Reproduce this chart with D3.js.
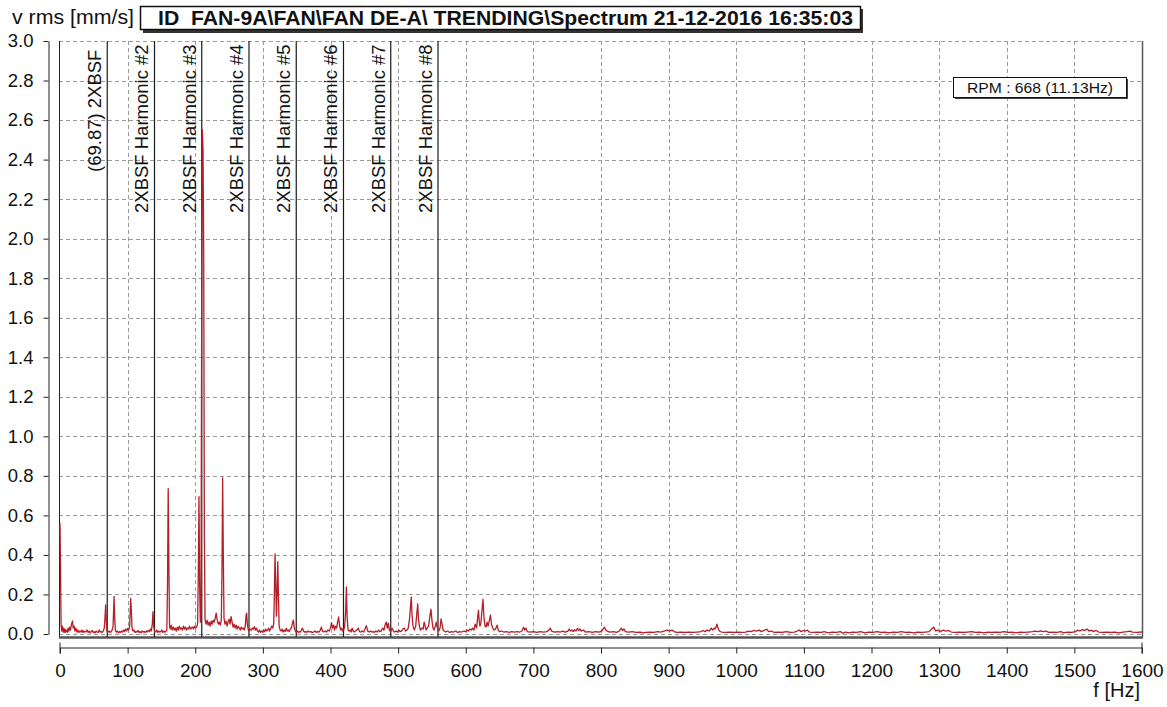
<!DOCTYPE html>
<html>
<head>
<meta charset="utf-8">
<script src="https://cdn.jsdelivr.net/npm/d3@7"></script>
<style>
  body { margin: 0; background: #fff; }
  svg { display: block; font-family: "Liberation Sans", Arial, Helvetica, sans-serif; }
</style>
</head>
<body>
<div id="chart"></div>
<script>
// spectrum readings: [frequency Hz, velocity mm/s rms]
const spectrum = [
  [0,0.56],[0.8,0.32],[1.6,0.05],[2.5,0.015],[3.5,0.04],[4.5,0.01],[5.5,0.03],[6.5,0.008],[7.5,0.025],[8.5,0.01],
  [9.5,0.02],[11,0.008],[12,0.03],[13,0.015],[14.5,0.035],[15.5,0.02],[17,0.05],[18.5,0.066],[19.5,0.03],[21,0.04],
  [22,0.015],[23.5,0.03],[25,0.01],[26.5,0.02],[28,0.008],[29.5,0.015],[31,0.01],[32.5,0.02],[34,0.008],[35.5,0.015],
  [37,0.01],[38.5,0.012],[40,0.02],[41.5,0.008],[43,0.015],[44.5,0.006],[46,0.012],[47.5,0.018],[49,0.008],[50.5,0.012],
  [52,0.006],[53.5,0.015],[55,0.01],[56.5,0.008],[58,0.02],[59.5,0.01],[61,0.012],[62.5,0.008],[64,0.015],[65.5,0.03],
  [66.5,0.08],[67.5,0.147],[68.5,0.06],[69.5,0.015],
  [71,0.01],[72.5,0.015],[74,0.008],[75.5,0.012],[77,0.02],[78.5,0.04],[80,0.19],[81,0.07],[82,0.015],[83.5,0.01],
  [85,0.015],[86.5,0.006],[88,0.012],[89.5,0.008],[91,0.015],[92.5,0.01],[94,0.02],[95.5,0.012],[97,0.025],[98.5,0.015],
  [100,0.028],[101.5,0.02],[103,0.04],[104.5,0.18],[105.5,0.12],[106.5,0.03],[108,0.015],[109.5,0.02],[111,0.008],[112.5,0.012],
  [114,0.01],[115.5,0.018],[117,0.008],[118.5,0.012],[120,0.006],[121.5,0.015],[123,0.01],[124.5,0.012],[126,0.008],[127.5,0.015],
  [129,0.01],[130.5,0.018],[132,0.012],[133.5,0.025],[135,0.015],[136.5,0.05],[137.5,0.113],[138.5,0.04],[140,0.01],[141.5,0.012],
  [143,0.02],[144.5,0.008],[146,0.015],[147.5,0.01],[149,0.012],[150.5,0.02],[152,0.008],[153.5,0.015],[155,0.01],[156.5,0.012],
  [158,0.02],[159,0.25],[160,0.735],[161,0.35],[162,0.04],
  [163,0.025],[164.5,0.045],[166,0.02],[167.5,0.035],[169,0.02],[170.5,0.03],[172,0.015],[173.5,0.035],[175,0.02],[176.5,0.04],
  [178,0.025],[179.5,0.03],[181,0.02],[182.5,0.04],[184,0.025],[185.5,0.035],[187,0.02],[188.5,0.03],[190,0.025],[191.5,0.04],
  [193,0.025],[194.5,0.03],[196,0.035],[197.5,0.025],[199,0.04],[200.5,0.03],[202,0.035],[203.5,0.05],[204.5,0.3],[205.5,0.695],
  [206.5,0.25],[207.5,0.06],[208.5,0.1],[209.5,1.6],[210.5,2.55],[211.5,2.45],[212.5,1.93],[213.5,0.5],[214.5,0.07],
  [216,0.05],[217.5,0.07],[219,0.045],[220.5,0.06],[222,0.04],[223.5,0.065],[225,0.05],[226.5,0.07],[228,0.06],[229.5,0.08],
  [231,0.106],[232.5,0.07],[234,0.05],[235.5,0.06],[237,0.045],[238.5,0.07],[239.5,0.3],[240.5,0.79],[241.5,0.4],[242.5,0.08],
  [244,0.05],[245.5,0.065],[247,0.04],[248.5,0.06],[250,0.075],[251.5,0.05],[253,0.088],[254.5,0.06],[256,0.035],[257.5,0.05],
  [259,0.03],[260.5,0.045],[262,0.025],[263.5,0.04],[265,0.03],[266.5,0.02],[268,0.035],[269.5,0.025],[271,0.03],[272.5,0.02],
  [274,0.04],[275,0.09],[276,0.106],[277,0.05],[278.5,0.02],[280,0.015],[281.5,0.025],[283,0.02],[284.5,0.03],[286,0.025],
  [287.5,0.037],[289,0.02],[290.5,0.03],
  [292,0.015],[293.5,0.01],[295,0.02],[296.5,0.008],[298,0.015],[299.5,0.01],[301,0.02],[302.5,0.012],[304,0.025],[305.5,0.015],
  [307,0.02],[308.5,0.03],[310,0.015],[311.5,0.025],[313,0.04],[314.5,0.03],[316,0.05],[317,0.2],[318,0.405],[319,0.25],
  [320,0.09],[321,0.2],[322,0.366],[323,0.2],[324,0.04],[325.5,0.02],[327,0.015],[328.5,0.025],[330,0.01],[331.5,0.02],
  [333,0.012],[334.5,0.03],[336,0.015],[337.5,0.02],[339,0.012],[340.5,0.025],[342,0.03],[343.5,0.05],[345,0.07],[346.5,0.03],
  [348,0.015],[349.5,0.01],[351,0.015],[352.5,0.008],[354,0.012],[355.5,0.01],[357,0.02],[358.5,0.03],[360,0.015],[361.5,0.01],
  [363,0.012],[365,0.008],[367,0.015],[369,0.01],[371,0.012],[373,0.008],[375,0.01],[377,0.015],[379,0.008],[381,0.012],
  [383,0.01],[385,0.02],[386.5,0.035],[388,0.015],[390,0.01],[392,0.015],[394,0.01],[396,0.02],[398,0.015],[400,0.03],
  [401.5,0.057],[403,0.03],[404.5,0.045],[406,0.02],[407.5,0.04],[409,0.03],[410.5,0.06],[412,0.086],[413.5,0.04],[415,0.02],
  [416.5,0.03],[418,0.015],[419.5,0.02],[421,0.04],[422.5,0.12],[423.5,0.238],[424.5,0.09],[426,0.02],[427.5,0.015],[429,0.02],
  [430.5,0.01],[432,0.03],[433.5,0.015],[435,0.01],[437,0.015],[439,0.02],[441,0.03],[443,0.012],[445,0.01],[447,0.015],
  [449,0.01],[451,0.025],[453,0.042],[455,0.015],[457,0.01],
  [459,0.015],[461,0.01],[463,0.012],[465,0.008],[467,0.015],[469,0.01],[471,0.02],[473,0.012],[475,0.015],[477,0.03],
  [479,0.02],[481,0.05],[482.5,0.06],[484,0.03],[485.5,0.055],[487,0.02],[489,0.012],[491,0.03],[493,0.015],[495,0.01],
  [497,0.015],[499,0.01],[501,0.02],[503,0.012],[505,0.015],[507,0.025],[509,0.03],[511,0.015],[513,0.02],[515,0.03],
  [517,0.08],[518.5,0.15],[519.5,0.187],[520.5,0.1],[522,0.04],[524,0.02],[526,0.04],[527.5,0.1],[529,0.152],[530,0.08],
  [531.5,0.04],[533,0.02],[535,0.03],[537,0.025],[538.5,0.06],[540,0.04],[541.5,0.02],[543,0.03],[545,0.04],[547,0.09],
  [548.5,0.126],[550,0.07],[551.5,0.03],[553,0.02],[555,0.04],[556.5,0.06],[558,0.03],[560,0.015],[562,0.03],[563.5,0.077],
  [565,0.05],[566.5,0.02],[568,0.015],
  [570,0.01],[573,0.015],[576,0.008],[579,0.012],[582,0.01],[585,0.015],[588,0.008],[591,0.012],[594,0.01],[597,0.015],
  [600,0.012],[602,0.02],[604,0.015],[606,0.025],[608,0.02],[610,0.03],[612,0.02],[614,0.05],[616,0.03],[617.5,0.08],
  [618.8,0.12],[620,0.06],[621,0.04],[622.5,0.06],[624,0.12],[625.5,0.176],[627,0.08],[628.5,0.04],[630,0.035],[631.5,0.06],
  [633,0.04],[635,0.07],[636.5,0.096],[638,0.05],[640,0.03],[642,0.02],[644,0.025],[646.5,0.045],[648,0.02],[650,0.012],
  [653,0.015],[656,0.01],[660,0.012],[664,0.008],[668,0.012],[672,0.01],[676,0.012],[680,0.01],[683,0.015],[685.5,0.034],
  [687,0.02],[689,0.03],[691,0.012],[695,0.01],[700,0.012],[705,0.008],[710,0.012],[715,0.01],[720,0.012],[723,0.02],
  [725,0.03],[727,0.015],[731,0.01],[736,0.012],[740,0.01],[743,0.015],[747,0.01],[751,0.015],[753,0.025],[755,0.015],
  [757,0.02],[759,0.012],[761,0.022],[763,0.015],[765,0.028],[767,0.018],[769,0.025],[771,0.015],[774,0.02],[777,0.01],
  [782,0.012],[787,0.008],[792,0.012],[797,0.01],[801,0.015],[803,0.025],[805,0.035],[807,0.02],[809,0.015],[813,0.01],
  [818,0.012],[823,0.008],[827,0.015],[830,0.03],[832,0.018],[834,0.025],[836,0.012],[841,0.01],[846,0.012],[852,0.008],
  [858,0.01],[862,0.006],[866,0.008],[872,0.01],[878,0.008],[884,0.012],[888,0.01],[893,0.015],[898,0.02],[901,0.015],
  [905,0.02],[908,0.012],[912,0.008],[918,0.01],[924,0.008],[930,0.01],[936,0.008],[942,0.01],[948,0.012],[951,0.018],
  [954,0.012],[957,0.02],[960,0.015],[963,0.03],[965,0.02],[967,0.03],[969,0.025],[971.5,0.05],[973,0.03],[975,0.015],
  [978,0.01],[984,0.008],[990,0.01],[996,0.008],[1002,0.01],[1008,0.008],[1014,0.01],[1018,0.015],[1022,0.012],[1026,0.018],
  [1030,0.015],[1034,0.02],[1037,0.012],[1041,0.018],[1045,0.024],[1048,0.012],[1052,0.015],[1056,0.008],[1062,0.01],[1068,0.008],
  [1074,0.012],[1080,0.008],[1086,0.01],[1090,0.015],[1093,0.02],[1096,0.012],[1099,0.018],[1102,0.015],[1105,0.02],[1108,0.01],
  [1114,0.008],[1120,0.01],[1126,0.008],[1130,0.012],[1136,0.006],[1142,0.01],[1148,0.008],[1154,0.012],[1158,0.004],[1162,0.01],
  [1166,0.006],[1172,0.01],[1178,0.008],[1184,0.012],[1190,0.006],[1196,0.01],[1202,0.008],[1208,0.012],[1214,0.008],[1220,0.01],
  [1226,0.006],[1232,0.01],[1238,0.008],[1244,0.012],[1250,0.008],[1256,0.01],[1262,0.006],[1268,0.01],[1274,0.008],[1280,0.01],
  [1285,0.012],[1289,0.025],[1292,0.035],[1295,0.015],[1298,0.02],[1302,0.012],[1306,0.02],[1310,0.015],[1314,0.018],[1318,0.01],
  [1324,0.008],[1330,0.01],[1336,0.008],[1342,0.01],[1348,0.012],[1354,0.008],[1360,0.01],[1366,0.006],[1372,0.01],[1378,0.008],
  [1384,0.01],[1390,0.008],[1396,0.012],[1402,0.008],[1408,0.01],[1414,0.006],[1420,0.01],[1426,0.008],[1432,0.01],[1438,0.012],
  [1442,0.015],[1446,0.012],[1450,0.016],[1454,0.012],[1458,0.015],[1462,0.008],[1468,0.01],[1474,0.008],[1480,0.012],[1484,0.006],
  [1490,0.01],[1496,0.008],[1502,0.012],[1505,0.02],[1508,0.015],[1512,0.022],[1515,0.018],[1519,0.025],[1522,0.015],[1525,0.02],
  [1528,0.012],[1532,0.018],[1536,0.01],[1542,0.008],[1548,0.01],[1554,0.008],[1560,0.01],[1566,0.006],[1572,0.01],[1578,0.012],
  [1582,0.015],[1586,0.01],[1592,0.008],[1600,0.01]
];

// 2XBSF cursor and its harmonics
const harmonicHz = [69.87, 139.74, 209.61, 279.48, 349.35, 419.22, 489.09, 558.96];
const harmonicLabels = ["(69.87) 2XBSF", "2XBSF Harmonic #2", "2XBSF Harmonic #3", "2XBSF Harmonic #4",
  "2XBSF Harmonic #5", "2XBSF Harmonic #6", "2XBSF Harmonic #7", "2XBSF Harmonic #8"];

const xTicks = d3.range(0, 1601, 100);
const yTicks = d3.range(0, 3.01, 0.2);

const titleText = "ID  FAN-9A\\FAN\\FAN DE-A\\ TRENDING\\Spectrum 21-12-2016 16:35:03";
const rpmText = "RPM : 668 (11.13Hz)";

const W = 1167, H = 707;
const plot = { left: 59, right: 1142, top: 41, bottom: 637 };

const svg = d3.select("#chart").append("svg")
  .attr("width", W).attr("height", H);

const x = d3.scaleLinear().domain([0, 1600]).range([60, 1142]);
const y = d3.scaleLinear().domain([0, 3]).range([634, 41]);

// grid
svg.append("g").selectAll("line").data(xTicks.slice(1, -1)).enter().append("line")
  .attr("x1", d => Math.round(x(d)) + 0.5).attr("x2", d => Math.round(x(d)) + 0.5)
  .attr("y1", plot.top).attr("y2", plot.bottom)
  .attr("stroke", "#9a9a9a").attr("stroke-dasharray", "4,3");
svg.append("g").selectAll("line").data(yTicks).enter().append("line")
  .attr("x1", plot.left).attr("x2", plot.right)
  .attr("y1", d => Math.round(y(d)) + 0.5).attr("y2", d => Math.round(y(d)) + 0.5)
  .attr("stroke", "#9a9a9a").attr("stroke-dasharray", "4,3");

// frame
svg.append("line").attr("x1", plot.left + 0.5).attr("x2", plot.left + 0.5)
  .attr("y1", plot.top).attr("y2", plot.bottom).attr("stroke", "#222");
svg.append("line").attr("x1", plot.right + 0.5).attr("x2", plot.right + 0.5)
  .attr("y1", plot.top).attr("y2", plot.bottom).attr("stroke", "#555").attr("stroke-width", 1.5);
svg.append("line").attr("x1", plot.left).attr("x2", plot.right + 1)
  .attr("y1", plot.bottom + 0.5).attr("y2", plot.bottom + 0.5).attr("stroke", "#555").attr("stroke-width", 2.5);

// harmonic cursors
svg.append("g").selectAll("line").data(harmonicHz).enter().append("line")
  .attr("x1", d => x(d)).attr("x2", d => x(d))
  .attr("y1", plot.top).attr("y2", plot.bottom)
  .attr("stroke", "#1a1a1a").attr("stroke-width", 1.2);

svg.append("g").selectAll("text").data(harmonicHz).enter().append("text")
  .attr("transform", (d, i) => `translate(${x(d) - 6},${i === 0 ? 172 : 213}) rotate(-90)`)
  .style("font-size", "18.5px")
  .attr("fill", "#111")
  .text((d, i) => harmonicLabels[i]);

// spectrum line
svg.append("clipPath").attr("id", "clip").append("rect")
  .attr("x", plot.left).attr("y", plot.top).attr("width", plot.right - plot.left).attr("height", plot.bottom - plot.top);

const line = d3.line().x(d => x(d[0])).y(d => y(d[1]));
svg.append("path")
  .datum(spectrum)
  .attr("clip-path", "url(#clip)")
  .attr("d", line)
  .attr("fill", "none")
  .attr("stroke", "#b41f28")
  .attr("stroke-width", 1.3)
  .attr("stroke-linejoin", "round");

// y axis
const yAxis = svg.append("g")
  .attr("transform", "translate(48.5,0)")
  .call(d3.axisLeft(y).tickValues(yTicks).tickFormat(d3.format(".1f")).tickSize(5).tickSizeOuter(0).tickPadding(10));
yAxis.select(".domain").attr("stroke", "#222");
yAxis.selectAll(".tick line").attr("stroke", "#222");
yAxis.selectAll("text").style("font-size", "18.5px").attr("fill", "#111").style("font-family", "inherit");

// x axis
const xAxis = svg.append("g")
  .attr("transform", "translate(0,647.5)")
  .call(d3.axisBottom(x).tickValues(xTicks).tickFormat(d3.format("d")).tickSize(6).tickSizeOuter(0).tickPadding(10));
xAxis.select(".domain").attr("stroke", "#222");
xAxis.selectAll(".tick line").attr("stroke", "#222");
xAxis.selectAll("text").style("font-size", "19px").attr("fill", "#111").style("font-family", "inherit");
// end markers crossing the axis line
[0, 1600].forEach(v => {
  xAxis.append("line").attr("x1", x(v)).attr("x2", x(v)).attr("y1", -5).attr("y2", 6).attr("stroke", "#222");
});

svg.append("text").attr("x", 1140).attr("y", 697).attr("text-anchor", "end")
  .style("font-size", "20px").attr("fill", "#111").text("f [Hz]");

svg.append("text").attr("x", 12).attr("y", 24)
  .style("font-size", "20px").attr("textLength", 122).attr("lengthAdjust", "spacingAndGlyphs")
  .attr("fill", "#111").text("v rms [mm/s]");

// title box
svg.append("rect").attr("x", 143).attr("y", 9).attr("width", 720).attr("height", 24).attr("fill", "#333");
svg.append("rect").attr("x", 140.5).attr("y", 6.5).attr("width", 720).attr("height", 23)
  .attr("fill", "#fff").attr("stroke", "#111").attr("stroke-width", 1.5);
svg.append("text").attr("x", 158).attr("y", 25)
  .style("font-size", "20px").style("font-weight", "bold").style("white-space", "pre")
  .attr("textLength", 695).attr("lengthAdjust", "spacingAndGlyphs")
  .attr("fill", "#111").text(titleText);

// rpm box
svg.append("rect").attr("x", 955).attr("y", 79).attr("width", 173).attr("height", 20).attr("fill", "#444");
svg.append("rect").attr("x", 953.5).attr("y", 77.5).attr("width", 173).attr("height", 20)
  .attr("fill", "#fff").attr("stroke", "#111");
svg.append("text").attr("x", 967).attr("y", 93)
  .style("font-size", "15px").attr("textLength", 146).attr("lengthAdjust", "spacingAndGlyphs")
  .attr("fill", "#111").text(rpmText);
</script>
</body>
</html>
